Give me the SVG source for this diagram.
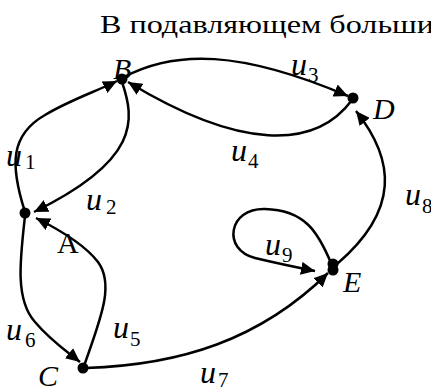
<svg xmlns="http://www.w3.org/2000/svg" width="431" height="392" viewBox="0 0 431 392">
<style>
.e{fill:none;stroke:#000;stroke-width:2.5;marker-end:url(#ah)}
.n{fill:#000}
</style>
<defs>
<marker id="ah" markerUnits="userSpaceOnUse" markerWidth="15" markerHeight="13" refX="14" refY="6.5" orient="auto">
<path d="M0,0 L14,6.5 L0,13 z" fill="#000"/>
</marker>
</defs>
<rect width="431" height="392" fill="#fff"/>
<text x="100" y="33" font-family="'Liberation Serif', 'Times New Roman', serif" font-size="26" textLength="334" lengthAdjust="spacingAndGlyphs" fill="#000">В подавляющем больши</text>
<g id="connectors">
<path id="u1" class="e" d="M25,212 C10,165 10,135 45,115 C70,100 95,92 117,81"/>
<path id="u2" class="e" d="M122,82 C135,120 140,160 34,212"/>
<path id="u3" class="e" d="M124,77 C175,50 240,50 348,96"/>
<path id="u4" class="e" d="M352,100 C315,150 240,150 128,82"/>
<path id="u5" class="e" d="M84,366 C100,320 115,285 98,262 C85,245 60,230 36,218"/>
<path id="u6" class="e" d="M25,216 C20,260 15,300 35,322 C50,340 65,350 80,362"/>
<path id="u7" class="e" d="M86,368 C180,365 260,340 328,273"/>
<path id="u8" class="e" d="M337,264 C400,210 395,160 356,111"/>
<path id="u9" class="e" d="M331,263 C318,232 305,210 265,209 C228,208 222,250 255,258 C280,264 300,268 315,271"/>
</g>
<g id="labels" font-family="'Liberation Serif', 'Times New Roman', serif" fill="#000">
<g font-size="32" font-style="italic">
<text x="6" y="166">u</text>
<text x="86" y="210">u</text>
<text x="291" y="75">u</text>
<text x="231" y="161">u</text>
<text x="113" y="338">u</text>
<text x="6" y="340">u</text>
<text x="200" y="383">u</text>
<text x="405" y="205">u</text>
<text x="265" y="255">u</text>
</g>
<g font-size="21">
<text x="25" y="169">1</text>
<text x="106" y="214">2</text>
<text x="308" y="82">3</text>
<text x="248" y="168">4</text>
<text x="130" y="346">5</text>
<text x="25" y="347">6</text>
<text x="218" y="387">7</text>
<text x="422" y="213">8</text>
<text x="282" y="262">9</text>
</g>
</g>
<g id="A"><circle class="n" cx="25" cy="213" r="5.5"/><text x="57" y="253" font-family="'Liberation Serif', 'Times New Roman', serif" font-size="30">A</text></g>
<g id="B"><circle class="n" cx="122" cy="79" r="5.5"/><text x="113" y="79" font-family="'Liberation Serif', 'Times New Roman', serif" font-size="30" font-style="italic">B</text></g>
<g id="C"><circle class="n" cx="83" cy="368" r="5.5"/><text x="38" y="386" font-family="'Liberation Serif', 'Times New Roman', serif" font-size="30" font-style="italic">C</text></g>
<g id="D"><circle class="n" cx="353" cy="98" r="5.5"/><text x="373" y="119" font-family="'Liberation Serif', 'Times New Roman', serif" font-size="30" font-style="italic">D</text></g>
<g id="E"><circle class="n" cx="333" cy="264" r="5.5"/><circle class="n" cx="333" cy="270" r="5.5"/><text x="343" y="292" font-family="'Liberation Serif', 'Times New Roman', serif" font-size="30" font-style="italic">E</text></g>
</svg>
